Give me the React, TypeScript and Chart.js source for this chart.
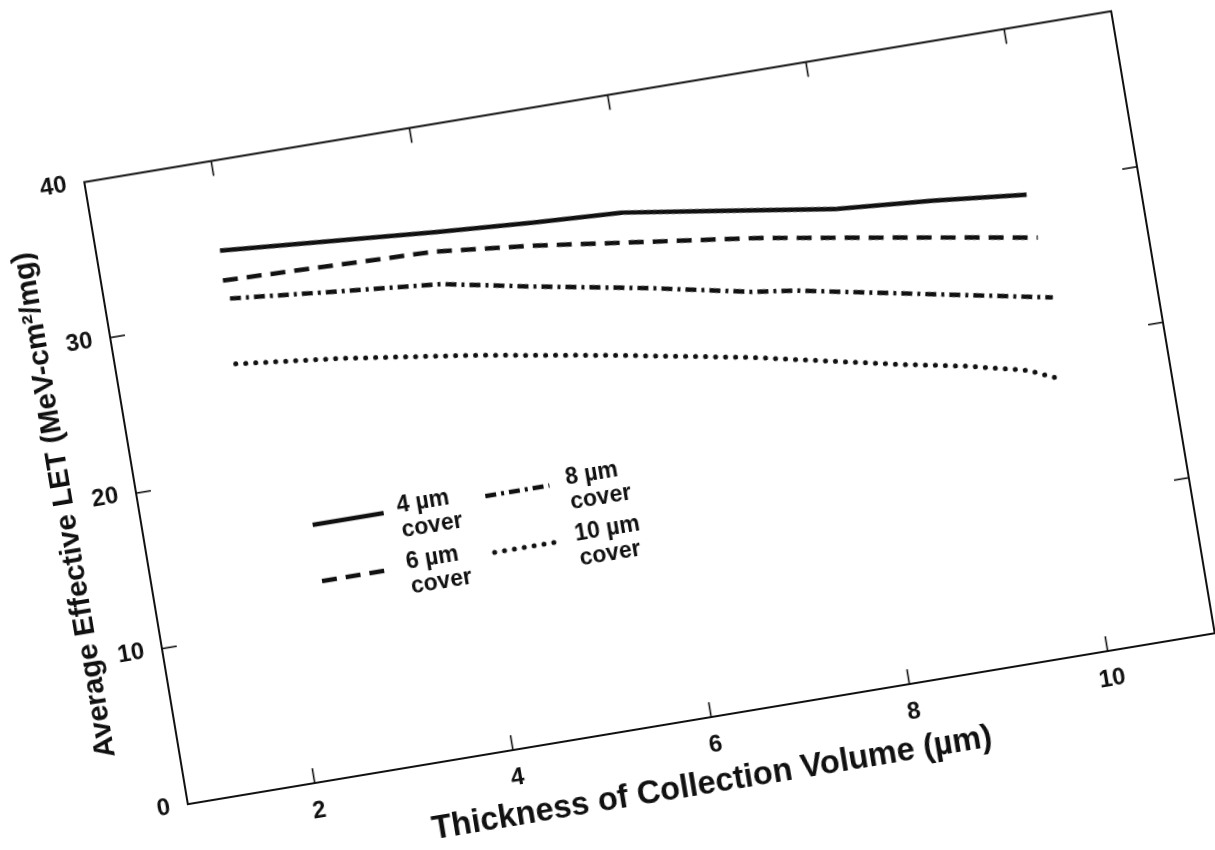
import React, { useEffect, useRef } from "react";
import { Chart, registerables } from "chart.js";

Chart.register(...registerables);

// ---- data (in the figure's own axis frame) ----
const xTicks = [2, 4, 6, 8, 10];
const yTicks = [0, 10, 20, 30, 40];
const X_MIN = 0.72;
const X_MAX = 11.08;
const Y_MIN = 0;
const Y_MAX = 40;

const thick4 = [1.94, 4.1, 5.06, 5.94, 6.89, 8.05, 9.02, 9.95];
const let4 = [34.3, 33.2, 32.8, 32.5, 31.6, 30.5, 30.0, 29.4];

const thick6 = [1.92, 4.05, 5.02, 6.15, 7.23, 8.77, 9.99];
const let6 = [32.4, 32.0, 31.35, 30.4, 29.5, 27.9, 26.6];

const thick8 = [1.96, 3.06, 4.06, 4.95, 6.08, 7.08, 7.53, 10.04];
const let8 = [31.2, 30.5, 29.9, 28.8, 27.5, 26.2, 25.8, 22.7];

const thick10 = [1.91, 2.95, 4.27, 5.59, 6.97, 8.43, 9.08, 9.67, 9.99];
const let10 = [27.05, 26.3, 25.1, 23.7, 22.1, 20.1, 19.3, 18.4, 17.5];

const seriesLabels = ["4 µm", "6 µm", "8 µm", "10 µm"];
const legendSecondLine = "cover";
const xTitle = "Thickness of Collection Volume (µm)";
const yTitle = "Average Effective LET (MeV-cm²/mg)";

// ---- styling / layout ----
const INK = "#111111";
const FAMILY = "'Liberation Sans', Arial, Helvetica, sans-serif";
const ROTATION_DEG = -9.45;
const CENTER_X = 649.5;
const CENTER_Y = 407.5;
const CANVAS_W = 1181;
const CANVAS_H = 769;

const styles = [
  { width: 4.5, dash: [] as number[], cap: "butt" as CanvasLineCap },
  { width: 4.5, dash: [15, 9], cap: "butt" as CanvasLineCap },
  { width: 4.5, dash: [11, 5, 3, 5], cap: "butt" as CanvasLineCap },
  { width: 5, dash: [0, 10], cap: "round" as CanvasLineCap },
];

// legend placement inside the plot (pixels from plot's bottom-left)
const legendCols = [
  { a0: 169, a1: 241, text: 255 },
  { a0: 344, a1: 409, text: 426 },
];
const legendRows = [255, 198];

function pts(xs: number[], ys: number[]) {
  return xs.map((x, i) => ({ x, y: ys[i] }));
}

const framePlugin = {
  id: "frameTicksLegend",
  afterDatasetsDraw(chart: any) {
    const { ctx, chartArea: ca } = chart;
    const xs = chart.scales.x;
    const ys = chart.scales.y;
    ctx.save();
    ctx.strokeStyle = INK;
    ctx.setLineDash([]);
    ctx.lineCap = "butt";
    ctx.lineWidth = 2;
    ctx.strokeRect(ca.left, ca.top, ca.right - ca.left, ca.bottom - ca.top);

    const seg = (x0: number, y0: number, x1: number, y1: number) => {
      ctx.beginPath();
      ctx.moveTo(x0, y0);
      ctx.lineTo(x1, y1);
      ctx.stroke();
    };
    ctx.lineWidth = 1.6;
    const TL = 15;
    xTicks.forEach((v) => {
      const p = xs.getPixelForValue(v);
      seg(p, ca.bottom, p, ca.bottom - TL);
      seg(p, ca.top, p, ca.top + TL);
    });
    yTicks
      .filter((v) => v > Y_MIN && v < Y_MAX)
      .forEach((v) => {
        const p = ys.getPixelForValue(v);
        seg(ca.left, p, ca.left + TL, p);
        seg(ca.right, p, ca.right - TL, p);
      });

    // legend
    chart.data.datasets.forEach((ds: any, i: number) => {
      const col = legendCols[Math.floor(i / 2)];
      const rowB = legendRows[i % 2];
      const y = ca.bottom - rowB;
      ctx.save();
      ctx.strokeStyle = INK;
      ctx.lineWidth = ds.borderWidth;
      ctx.lineCap = ds.borderCapStyle;
      ctx.setLineDash(ds.borderDash || []);
      seg(ca.left + col.a0, y, ca.left + col.a1, y);
      ctx.restore();
      ctx.fillStyle = INK;
      ctx.font = `bold 23px ${FAMILY}`;
      ctx.textAlign = "left";
      ctx.textBaseline = "middle";
      ctx.fillText(seriesLabels[i], ca.left + col.text, y - 4.5);
      ctx.fillText(legendSecondLine, ca.left + col.text + 1, y + 21);
    });
    ctx.restore();
  },
};

export default function App() {
  const wrapRef = useRef<HTMLDivElement>(null);
  const canvasRef = useRef<HTMLCanvasElement>(null);

  useEffect(() => {
    const canvas = canvasRef.current!;
    const seriesData = [
      pts(thick4, let4),
      pts(thick6, let6),
      pts(thick8, let8),
      pts(thick10, let10),
    ];
    const chart = new Chart(canvas, {
      type: "line",
      data: {
        datasets: seriesData.map((d, i) => ({
          label: seriesLabels[i] + " " + legendSecondLine,
          data: d,
          borderColor: INK,
          backgroundColor: INK,
          borderWidth: styles[i].width,
          borderDash: styles[i].dash,
          borderCapStyle: styles[i].cap,
          borderJoinStyle: "round",
          pointRadius: 0,
          tension: 0,
          fill: false,
        })),
      },
      options: {
        animation: false,
        responsive: false,
        devicePixelRatio: 1,
        layout: { padding: { left: 20, right: 30, top: 30, bottom: 20 } },
        plugins: {
          legend: { display: false },
          tooltip: { enabled: false },
        },
        scales: {
          x: {
            type: "linear",
            min: X_MIN,
            max: X_MAX,
            afterBuildTicks: (s: any) => {
              s.ticks = xTicks.map((v) => ({ value: v }));
            },
            afterFit: (s: any) => {
              s.height = 86;
            },
            grid: { display: false, drawTicks: false },
            border: { display: false },
            ticks: {
              padding: 14,
              color: INK,
              font: { family: FAMILY, size: 24, weight: "bold" },
              callback: (v: any) => String(v),
            },
            title: {
              display: true,
              text: xTitle,
              color: INK,
              padding: 0,
              font: { family: FAMILY, size: 32.5, weight: "bold" },
            },
          },
          y: {
            type: "linear",
            min: Y_MIN,
            max: Y_MAX,
            afterBuildTicks: (s: any) => {
              s.ticks = yTicks.map((v) => ({ value: v }));
            },
            afterFit: (s: any) => {
              s.width = 90;
            },
            grid: { display: false, drawTicks: false },
            border: { display: false },
            ticks: {
              padding: 18,
              color: INK,
              font: { family: FAMILY, size: 24, weight: "bold" },
              callback: (v: any) => String(v),
            },
            title: {
              display: true,
              text: yTitle,
              color: INK,
              padding: 0,
              font: { family: FAMILY, size: 29.5, weight: "bold" },
            },
          },
        },
      },
      plugins: [framePlugin],
    } as any);

    const ca = chart.chartArea;
    const cx = (ca.left + ca.right) / 2;
    const cy = (ca.top + ca.bottom) / 2;
    const w = wrapRef.current!;
    w.style.left = `${CENTER_X - cx}px`;
    w.style.top = `${CENTER_Y - cy}px`;
    w.style.transformOrigin = `${cx}px ${cy}px`;
    w.style.transform = `rotate(${ROTATION_DEG}deg)`;

    return () => chart.destroy();
  }, []);

  return (
    <div
      ref={wrapRef}
      style={{ position: "fixed", left: 0, top: 0, background: "transparent" }}
    >
      <canvas
        ref={canvasRef}
        width={CANVAS_W}
        height={CANVAS_H}
        style={{ display: "block", width: CANVAS_W, height: CANVAS_H }}
      />
    </div>
  );
}
